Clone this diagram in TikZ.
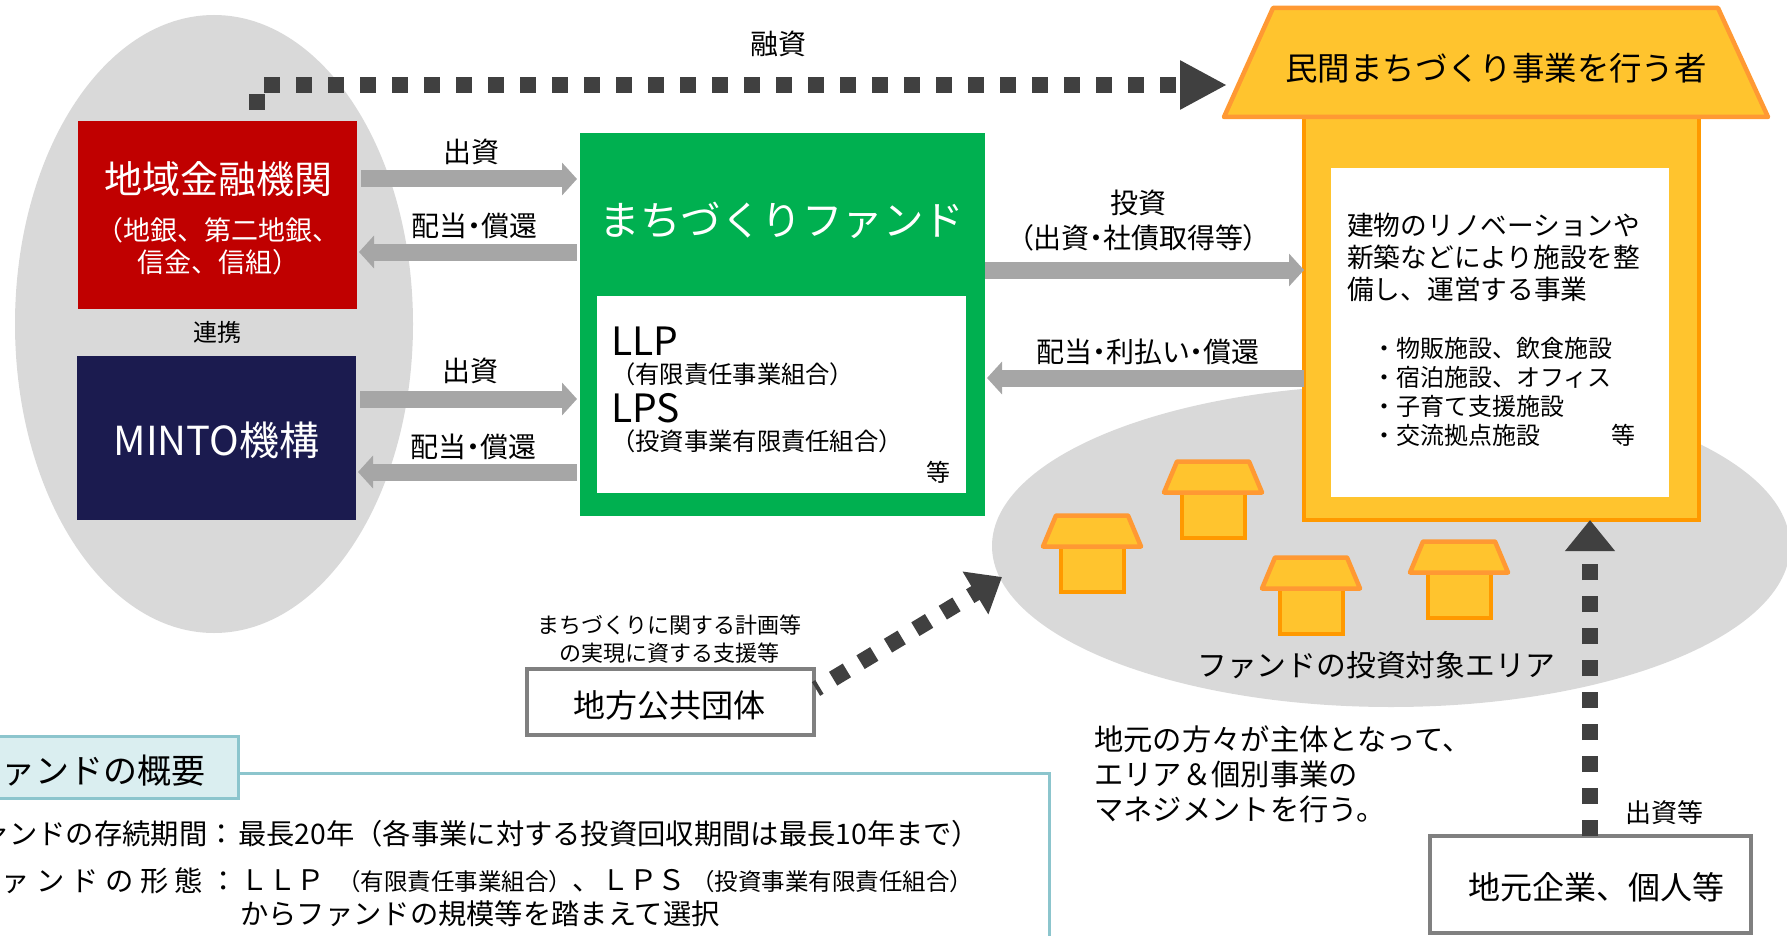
\documentclass[tikz,border=0pt]{standalone}
\usepackage{fontspec}
\setmainfont{Noto Sans CJK JP}
\usetikzlibrary{arrows.meta,positioning,shapes.geometric}

\definecolor{lightgray}{HTML}{D9D9D9}
\definecolor{flowgray}{HTML}{A6A6A6}
\definecolor{darkdot}{HTML}{404040}
\definecolor{bankred}{HTML}{C00000}
\definecolor{mintonavy}{HTML}{1B1B4F}
\definecolor{fundgreen}{HTML}{00B050}
\definecolor{houseyellow}{HTML}{FFC42E}
\definecolor{roofedge}{HTML}{FF9933}
\definecolor{houseedge}{HTML}{FF9900}
\definecolor{paneledge}{HTML}{8CC5CD}
\definecolor{panelfill}{HTML}{DAEEF0}
\newcommand{\fsz}[1]{\fontsize{#1pt}{#1pt}\selectfont}
\newcommand{\tight}{\addfontfeature{RawFeature=+palt}}

\tikzset{
    areashape/.style={ellipse, fill=lightgray, inner sep=0pt, outer sep=0pt},
    solidbox/.style={rectangle, inner sep=0pt, outer sep=0pt, text=white, align=center},
    outlinebox/.style={rectangle, draw=gray, line width=4pt, fill=white, inner sep=0pt, outer sep=0pt},
    flowarrow/.style={line width=17pt, draw=flowgray, -{Triangle[length=15pt,width=32pt]}},
    dotarrow/.style={line width=16pt, draw=darkdot, dash pattern=on 16pt off 16pt, -{Triangle[length=47pt,width=46pt]}},
    flowlabel/.style={font=\fsz{28}\tight, inner sep=0pt},
    roofshape/.style={draw=roofedge, fill=houseyellow, line width=4.5pt, line join=round},
    smallbody/.style={rectangle, draw=houseedge, fill=houseyellow, line width=4pt, inner sep=0pt, outer sep=0pt,
        minimum width=63pt, minimum height=45pt},
    paneltext/.style={font=\fsz{28.3}, inner sep=0pt},
}

\begin{document}
\begin{tikzpicture}[x=1pt,y=-1pt]
    \clip (0,0) rectangle (1787,936);

    % grey areas
    \node[areashape, minimum width=398pt, minimum height=618pt] (partners) at (214,324) {};
    \node[areashape, minimum width=798pt, minimum height=322pt] (target) at (1391,546) {};

    % investors
    \node[solidbox, fill=bankred, minimum width=279pt, minimum height=188pt] (bank) at (217.5,215) {};
    \node[font=\fsz{38}, text=white, inner sep=0pt] (banktitle) at (218,179) {地域金融機関};
    \node[font=\fontsize{27pt}{32pt}\selectfont, text=white, align=center, inner sep=0pt] (banksub) at (218,246) {（地銀、第二地銀、\\信金、信組）};
    \node[font=\fsz{24}, inner sep=0pt] (link) [below=12pt of bank] {連携};
    \node[solidbox, fill=mintonavy, minimum width=279pt, minimum height=164pt] (minto) at (216.5,438) {};
    \node[font=\fsz{40}, text=white, inner sep=0pt] (mintotitle) at (216.5,440) {MINTO機構};

    % fund
    \node[solidbox, fill=fundgreen, minimum width=405pt, minimum height=383pt] (fund) at (782.5,324.5) {};
    \node[font=\fsz{40.5}, text=white, inner sep=0pt] (fundtitle) at (782,220) {まちづくりファンド};
    \node[solidbox, fill=white, minimum width=369pt, minimum height=197pt] (fundform) at (781.5,394.5) {};
    \node[font=\fsz{39}, anchor=west, inner sep=0pt] (llp) at (611,341) {LLP};
    \node[font=\fsz{24.3}, anchor=west, inner sep=0pt] (llpsub) at (611,374) {（有限責任事業組合）};
    \node[font=\fsz{39}, anchor=west, inner sep=0pt] (lps) at (611,408) {LPS};
    \node[font=\fsz{24.3}, anchor=west, inner sep=0pt] (lpssub) at (611,441) {（投資事業有限責任組合）};
    \node[font=\fsz{24}, inner sep=0pt] (fundetc) at (938,472) {等};

    % target area with small houses
    \foreach \hx/\hy/\hid in {1092/569/a,1213/515/b,1311/611/c,1459/595/d} {
        \node[smallbody] (body\hid) at (\hx,\hy) {};
        \draw[roofshape] (body\hid.north) ++(-49,0) -- ++(13,-31) -- ++(72,0) -- ++(13,31) -- cycle;
    }
    \node[font=\fsz{29.8}, inner sep=0pt] (targetlabel) at (1376,665) {ファンドの投資対象エリア};

    % private operator
    \node[smallbody, minimum width=395pt, minimum height=403pt] (operator) at (1501.5,318.5) {};
    \draw[roofshape] (operator.north) ++(-277.5,0) -- ++(49,-109) -- ++(445,0) -- ++(50,109) -- cycle;
    \node[font=\fsz{32.4}, inner sep=0pt] (rooflabel) at (1496,68) {民間まちづくり事業を行う者};
    \node[solidbox, fill=white, minimum width=338pt, minimum height=329pt] (business) at (1500,332.5) {};
    \node[font=\fontsize{26.7pt}{32pt}\selectfont, anchor=north west, align=left, inner sep=0pt] (businesstext) at (1347,212.5)
        {建物のリノベーションや\\新築などにより施設を整\\備し、運営する事業};
    \node[font=\fontsize{24pt}{29pt}\selectfont, anchor=north west, align=left, inner sep=0pt] (businesslist) at (1372,337)
        {・物販施設、飲食施設\\・宿泊施設、オフィス\\・子育て支援施設\\・交流拠点施設};
    \node[font=\fsz{24}, inner sep=0pt] (businessetc) at (1623,435) {等};

    % local government and companies
    \node[outlinebox, minimum width=287pt, minimum height=66pt] (gov) at (670.5,702) {};
    \node[font=\fsz{32}, inner sep=0pt] (govlabel) at (669,705) {地方公共団体};
    \node[font=\fontsize{22pt}{28pt}\selectfont, align=center, inner sep=0pt] (support) at (669,639) {まちづくりに関する計画等\\の実現に資する支援等};
    \node[font=\fontsize{29.3pt}{35pt}\selectfont, anchor=north west, align=left, inner sep=0pt] (manage) at (1094,726)
        {地元の方々が主体となって、\\エリア＆個別事業の\\マネジメントを行う。};
    \node[outlinebox, minimum width=321pt, minimum height=97pt] (local) at (1590.5,884.5) {};
    \node[font=\fsz{32}, inner sep=0pt] (locallabel) at (1596,887) {地元企業、個人等};
    \node[font=\fsz{26}, inner sep=0pt] (localinvest) at (1664,813) {出資等};

    % flows
    \path
    ([yshift=36pt]bank.east) edge[flowarrow, shorten <=4pt, shorten >=3pt] ([yshift=145.5pt]fund.west)
    ([yshift=39pt]minto.east) edge[flowarrow, shorten <=4pt, shorten >=3pt] ([yshift=-74.5pt]fund.west)
    ([yshift=72.5pt]fund.west) edge[flowarrow, shorten <=3pt, shorten >=2pt] ([yshift=-37pt]bank.east)
    ([yshift=-147.5pt]fund.west) edge[flowarrow, shorten <=3pt, shorten >=2pt] ([yshift=-34pt]minto.east)
    ([yshift=54.5pt]fund.east) edge[flowarrow] ([yshift=48.5pt]operator.west)
    ([yshift=-59.5pt]operator.west) edge[flowarrow] ([yshift=-53.5pt,xshift=2pt]fund.east)
    ;
    \node[flowlabel] (in1) at (471,152) {出資};
    \node[flowlabel] (out1) at (474,226) {配当・償還};
    \node[flowlabel] (in2) at (470,371) {出資};
    \node[flowlabel] (out2) at (473,447) {配当・償還};
    \node[flowlabel, align=center, font=\fontsize{28pt}{35pt}\selectfont\tight] (invest) at (1138,221) {投資\\（出資・社債取得等）};
    \node[flowlabel] (out3) at (1148,352) {配当・利払い・償還};

    % dotted flows
    \coordinate (loanstart) at (257,110);
    \coordinate (loanend) at (1227,85);
    \draw[dotarrow] (loanstart) -- (loanstart |- loanend) -- (loanend);
    \node[flowlabel, font=\fsz{28}] (loan) at (778,44) {融資};
    \coordinate (govend) at (1002,577);
    \draw[dotarrow, dash phase=12pt, -{Triangle[length=31pt,width=48pt]}] ([yshift=13pt,xshift=2pt]gov.east) -- (govend);
    \draw[dotarrow, -{Triangle[length=31pt,width=48pt]}] (local.north -| 1590,836) -- (operator.south -| 1590,521);

    % overview panel
    \node[rectangle, draw=paneledge, fill=panelfill, line width=3pt, minimum width=270pt, minimum height=62pt, inner sep=0pt] (panelhead) at (103.5,767) {};
    \node[font=\fsz{34}, anchor=east, inner sep=0pt] (paneltitle) at (206,771) {ファンドの概要};
    \coordinate (panelend) at (1049,945);
    \draw[paneledge, line width=3pt] (panelhead.east |- 0,773) -| (panelend);
    \node[paneltext, anchor=east] (termkey) at (236,834) {ファンドの存続期間：};
    \node[paneltext, anchor=west] (termval) at (238,834) {最長20年（各事業に対する投資回収期間は最長10年まで）};
    \node[paneltext, anchor=east] (formkey) at (238,881) {フ ァ ン ド の 形 態 ：};
    \node[paneltext, anchor=west] (formval) at (240,881) {ＬＬＰ\hspace{12pt}{\fsz{23.5}（有限責任事業組合）}、\hspace{1pt}ＬＰＳ\hspace{5pt}{\fsz{23.5}（投資事業有限責任組合）}};
    \node[paneltext, anchor=west] (formnote) at (240,914) {からファンドの規模等を踏まえて選択};
\end{tikzpicture}
\end{document}
